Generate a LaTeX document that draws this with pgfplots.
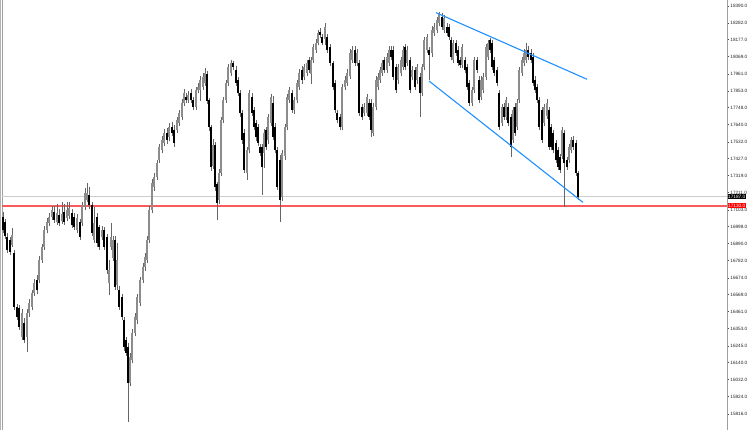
\documentclass[border=0pt]{standalone}
\usepackage{pgfplots}
\pgfplotsset{compat=1.18}
\usepackage{pgfplotstable}
\usepackage{fontspec}
\setmainfont{Liberation Sans}
\definecolor{trend}{RGB}{30,144,255}
\definecolor{bidline}{RGB}{205,205,205}
\definecolor{lvlred}{RGB}{250,90,90}
\pgfplotstableread{
x o h l c
3 17058 17090 16955 16976
5 17026 17045 16920 16938
7 16932 16955 16830 16850
10 16913 16930 16815 16837
12 16881 16988 16868 16944
14 16831 16850 16470 16490
17 16490 16510 16405 16427
19 16484 16500 16345 16364
22 16301 16475 16282 16452
24 16389 16420 16260 16282
27 16301 16480 16206 16452
29 16452 16540 16430 16515
32 16490 16600 16470 16578
34 16578 16665 16560 16641
37 16660 16690 16575 16600
39 16660 16810 16640 16786
42 16786 16890 16765 16868
44 16868 17000 16850 16976
47 16976 17050 16955 17026
49 17020 17080 17000 17058
52 17058 17125 17040 17102
54 17089 17130 17020 17039
57 17026 17140 17010 17083
59 17070 17110 17000 17020
62 17032 17150 17015 17077
64 17089 17140 17005 17026
67 17051 17150 17030 17102
69 17064 17150 17045 17115
72 17083 17110 16990 17007
74 17058 17080 16975 16995
77 16976 17075 16955 17051
80 17026 17045 16910 16932
82 17020 17150 17000 17133
85 17121 17240 17100 17209
87 17165 17272 17150 17209
89 17197 17250 17110 17133
92 17133 17150 16935 16957
94 16913 17121 16895 17020
97 17058 17080 16870 16894
99 16995 17010 16850 16868
102 16932 17000 16910 16976
104 16976 16995 16850 16868
107 16932 16950 16700 16723
109 16641 16786 16565 16723
111 16868 17020 16850 16932
113 16800 16935 16780 16913
115 16913 16935 16595 16616
117 16630 16894 16597 16786
119 16597 16620 16470 16490
122 16553 16575 16405 16427
124 16408 16430 16215 16237
126 16282 16300 16180 16200
128 16237 16260 15764 16010
130 16010 16200 15990 16174
132 16155 16350 16135 16326
135 16326 16450 16305 16427
137 16408 16575 16385 16553
140 16515 16680 16495 16660
143 16660 16765 16640 16742
145 16742 16830 16720 16805
147 16786 16935 16765 16913
149 16913 17125 16895 17102
152 17102 17300 17080 17272
154 17247 17335 17225 17310
157 17310 17420 17290 17398
159 17417 17520 17400 17499
162 17481 17570 17460 17544
164 17525 17610 17505 17588
167 17588 17620 17520 17544
169 17562 17650 17540 17626
172 17626 17660 17570 17588
174 17607 17640 17500 17525
177 17607 17690 17585 17670
179 17651 17735 17630 17714
182 17689 17800 17670 17777
184 17777 17865 17760 17840
186 17815 17840 17775 17796
188 17796 17850 17780 17827
191 17840 17865 17775 17796
193 17796 17815 17730 17752
196 17752 17880 17735 17859
198 17859 17905 17840 17878
200 17859 17945 17790 17922
203 17878 17966 17860 17941
205 17903 17995 17885 17966
207 17960 17980 17770 17790
209 17796 17810 17600 17626
211 17626 17640 17350 17373
213 17380 17550 17360 17510
215 17510 17530 17225 17247
217 17266 17280 17039 17146
219 17165 17360 17140 17335
221 17335 17690 17315 17670
223 17670 17815 17650 17796
226 17796 17925 17775 17903
228 17903 18025 17885 18004
231 17966 18048 17950 18029
233 18029 18042 17985 18004
236 17985 18010 17885 17903
238 17922 17940 17820 17840
240 17840 17860 17690 17714
242 17714 17730 17520 17544
244 17588 17610 17335 17354
247 17335 17500 17290 17481
249 17480 17860 17460 17840
252 17815 17840 17695 17714
254 17733 17750 17605 17626
256 17651 17670 17540 17562
258 17626 17645 17505 17525
260 17499 17520 17440 17462
262 17499 17520 17197 17373
264 17462 17610 17370 17588
266 17607 17625 17480 17499
268 17544 17710 17520 17689
271 17651 17835 17630 17815
273 17780 17820 17545 17562
275 17626 17650 17460 17481
277 17481 17500 17230 17250
280 17420 17450 17026 17165
282 17184 17480 17160 17462
285 17443 17645 17420 17626
287 17626 17835 17605 17815
289 17796 17880 17775 17859
292 17840 17860 17715 17733
294 17733 17815 17710 17796
297 17796 17920 17775 17903
299 17878 17990 17860 17966
302 17985 18010 17900 17922
304 17941 18025 17920 18004
307 17966 18050 17945 18029
309 18048 18070 17965 17985
311 17960 18070 17900 18048
313 18048 18150 18030 18130
316 18112 18180 18095 18156
318 18156 18240 18140 18219
320 18225 18250 18185 18206
322 18194 18215 18140 18156
325 18180 18282 18140 18257
327 18194 18215 18095 18112
330 18130 18150 18010 18029
333 18029 18045 17860 17878
335 17903 17920 17715 17733
337 17714 17735 17650 17670
340 17689 17710 17605 17626
342 17626 17900 17605 17878
345 17878 17945 17860 17922
347 17903 17990 17885 17966
350 17947 18115 17930 18093
352 18048 18135 18030 18112
355 18112 18135 18010 18029
357 18029 18115 18010 18093
359 18029 18050 17695 17714
362 17752 17770 17670 17689
364 17714 17775 17695 17752
367 17714 17835 17695 17815
369 17777 17800 17670 17689
371 17777 17800 17562 17607
373 17588 17775 17570 17752
376 17752 17945 17735 17922
378 17878 17965 17860 17941
380 17922 18005 17905 17985
382 17966 18050 17945 18029
384 18048 18070 17965 17985
387 17985 18090 17965 18067
389 18029 18135 18010 18112
391 18112 18135 18050 18067
393 18112 18135 17920 17941
396 18004 18025 17840 17859
398 17922 18025 17900 18004
401 17966 18070 17945 18048
403 18004 18135 17985 18112
405 18130 18150 17985 18004
407 18029 18135 18010 18112
410 18048 18070 17840 17859
412 17941 18010 17920 17985
415 17985 18005 17860 17878
417 17922 18025 17900 18004
420 17941 17965 17689 17840
422 17840 18025 17820 18004
424 18004 18195 17985 18175
427 18112 18215 18095 18194
429 18112 18130 17922 18080
432 18090 18260 18070 18238
434 18219 18282 18200 18257
437 18238 18320 18220 18301
439 18282 18351 18260 18345
442 18320 18345 18240 18257
444 18238 18335 18220 18313
447 18257 18280 18200 18219
449 18257 18275 18175 18194
451 18175 18195 18050 18067
453 18048 18175 18030 18156
456 18156 18175 18075 18093
458 18112 18135 18010 18029
460 18048 18070 18000 18017
462 18017 18150 18000 18130
465 18048 18070 17965 17985
467 18004 18025 17860 17878
469 17903 17925 17760 17777
472 17777 17880 17760 17859
474 17859 18070 17840 18048
477 18048 18070 17965 17985
479 17922 17945 17775 17796
481 17815 17945 17795 17922
483 17859 17965 17840 17941
486 17941 18150 17920 18130
488 18067 18175 18050 18156
490 18175 18187 18095 18112
492 18156 18175 17985 18004
494 18048 18070 17945 17966
497 17985 18005 17885 17903
499 17840 17860 17605 17626
502 17651 17770 17630 17752
504 17752 17775 17670 17689
506 17689 17815 17670 17796
508 17752 17775 17630 17651
511 17689 17710 17436 17499
513 17544 17750 17525 17733
515 17752 17775 17570 17588
517 17626 17800 17605 17777
519 17796 18005 17775 17985
522 17966 18070 17945 18048
524 18029 18115 18010 18093
526 18048 18156 18030 18112
528 18112 18135 18050 18067
531 18093 18115 18030 18048
533 18067 18090 17885 17903
535 17922 17945 17840 17859
537 17878 17900 17775 17796
539 17796 17815 17605 17626
542 17733 17750 17525 17544
544 17651 17770 17630 17752
547 17695 17800 17675 17777
549 17733 17750 17480 17499
551 17626 17645 17480 17499
553 17588 17605 17460 17481
556 17525 17545 17400 17417
558 17481 17500 17355 17373
560 17436 17455 17335 17354
562 17443 17625 17425 17607
564 17588 17605 17121 17398
567 17417 17435 17355 17373
569 17417 17520 17400 17499
571 17481 17565 17460 17544
573 17544 17570 17480 17499
576 17525 17545 17315 17335
578 17335 17350 17165 17187
}\candles
\begin{document}
\begin{tikzpicture}
\useasboundingbox (0,0) rectangle (750bp,430bp);
\draw[gray!60, line width=0.6bp] (0.6bp,0) -- (0.6bp,430bp);
\begin{axis}[
  at={(2bp,0)}, anchor=south west,
  width=725bp, height=430bp, scale only axis,
  xmin=2, xmax=727, ymin=15714, ymax=18427,
  clip=false,
  separate axis lines,
  x axis line style={draw=none},
  y axis line style={draw=gray!75, line width=0.9bp},
  xtick=\empty,
  scaled y ticks=false,
  ytick={15816,15924,16032,16140,16245,16353,16461,16569,16674,16782,16890,16998,17103,17211,17319,17427,17532,17640,17748,17853,17961,18069,18177,18282,18390},
  ytick pos=right, yticklabel pos=right,
  tick align=outside,
  major tick length=2bp,
  tick style={black!70, line width=0.5bp},
  yticklabel style={font=\fontsize{4.7}{5}\selectfont, text=black!85, inner sep=0pt, xshift=1.2bp, anchor=west,
    /pgf/number format/.cd, fixed, fixed zerofill, precision=1, 1000 sep={}, assume math mode=true},
]
% bid line (behind candles)
\addplot[color=bidline, line width=0.7bp, mark=none] coordinates {(2,17187) (727,17187)};
% level line drawn as a filled strip
\addplot[draw=none, fill=lvlred, mark=none] coordinates {(2,17124) (727,17124) (727,17136) (2,17136)} -- cycle;
% wicks
\addplot[draw=none, mark=none, forget plot,
  error bars/.cd, y dir=plus, y explicit, error mark=none,
  error bar style={draw=black!60, line width=0.55bp}]
  table[x=x, y=l, y error expr=\thisrow{h}-\thisrow{l}] {\candles};
% bullish bodies
\addplot[draw=none, mark=none, forget plot,
  restrict expr to domain={\thisrow{c}-\thisrow{o}}{0:100000},
  error bars/.cd, y dir=plus, y explicit, error mark=none,
  error bar style={draw=black!45, line width=1.5bp}]
  table[x=x, y expr={min(\thisrow{o},\thisrow{c})}, y error expr={abs(\thisrow{c}-\thisrow{o})}] {\candles};
% bearish bodies
\addplot[draw=none, mark=none, forget plot,
  restrict expr to domain={\thisrow{c}-\thisrow{o}}{-100000:-0.001},
  error bars/.cd, y dir=plus, y explicit, error mark=none,
  error bar style={draw=black, line width=1.5bp}]
  table[x=x, y expr={min(\thisrow{o},\thisrow{c})}, y error expr={abs(\thisrow{c}-\thisrow{o})}] {\candles};
% trend channel
\addplot[color=trend, line width=1.1bp, mark=none] coordinates {(436,18347) (587,17927)};
\addplot[color=trend, line width=1.1bp, mark=none] coordinates {(429,17916) (583,17150)};
% price labels
\node[fill=black, text=white, font=\fontsize{4.7}{5}\selectfont, inner sep=0.5bp, anchor=west] at (axis cs:727.5,17187) {17187.0};
\node[fill=red, text=white, font=\fontsize{4.7}{5}\selectfont, inner sep=0.5bp, anchor=west] at (axis cs:727.5,17130) {17130.0};
\end{axis}
\end{tikzpicture}
\end{document}
